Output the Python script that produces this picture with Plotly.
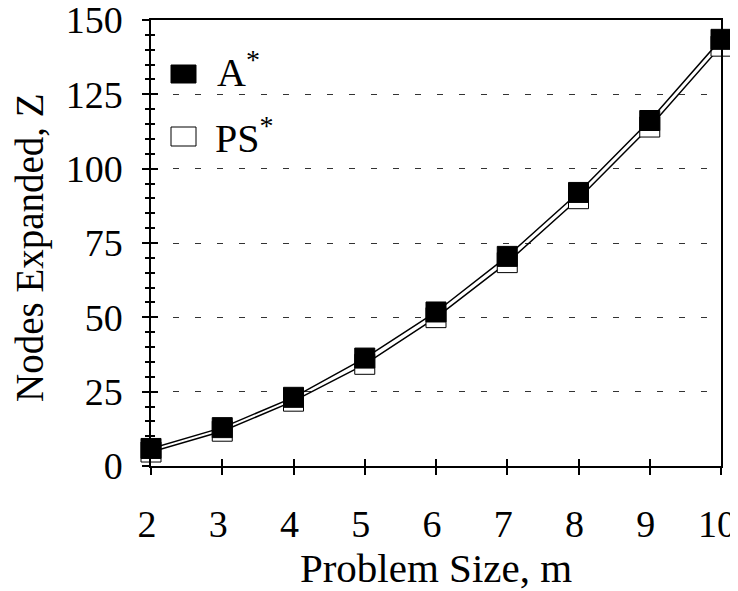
import plotly.graph_objects as go

problem_size = [2, 3, 4, 5, 6, 7, 8, 9, 10]
a_star = [5.9, 12.9, 23.1, 36.3, 51.8, 70.5, 92.0, 116.2, 143.5]
ps_star = [4.7, 11.7, 21.8, 34.2, 49.9, 68.4, 89.9, 114.0, 141.2]
y_ticks = [0, 25, 50, 75, 100, 125, 150]
x_ticks = [2, 3, 4, 5, 6, 7, 8, 9, 10]

FONT = "Liberation Serif, Times New Roman, Times, serif"
OFF = 8  # page body margin
W, H = 738 - OFF, 591 - OFF
# plot area in page pixels: x 151..721, y 20..466
PX0, PX1, PY0, PY1 = 151, 721, 20, 466
L, T = PX0 - OFF, PY0 - OFF
R = W - (PX1 - OFF)
B = H - (PY1 - OFF)
PW, PH = PX1 - PX0, PY1 - PY0

def px(xp):
    return (xp - PX0) / PW

def py(yp):
    return (PY1 - yp) / PH

fig = go.Figure()
fig.add_trace(go.Scatter(
    x=problem_size, y=ps_star, mode="lines+markers", name="PS*",
    line=dict(color="black", width=1.5),
    marker=dict(symbol="square", size=20, color="white", line=dict(color="black", width=1)),
    cliponaxis=False, showlegend=False))
fig.add_trace(go.Scatter(
    x=problem_size, y=a_star, mode="lines+markers", name="A*",
    line=dict(color="black", width=1.5),
    marker=dict(symbol="square", size=20, color="black", line=dict(color="black", width=1)),
    cliponaxis=False, showlegend=False))

axis_common = dict(showline=True, linecolor="black", linewidth=1.5, mirror=True,
                   tickcolor="black", tickwidth=1.5, zeroline=False, automargin=False,
                   ticklabeloverflow="allow",
                   tickfont=dict(family=FONT, size=38, color="black"))

fig.update_layout(
    width=W, height=H,
    margin=dict(l=L, r=R, t=T, b=B),
    paper_bgcolor="white", plot_bgcolor="white",
    font=dict(family=FONT, color="black"),
    xaxis=dict(range=[2, 10], tickvals=x_ticks, ticks="outside", ticklen=7,
               showgrid=False, ticklabelstandoff=17, ticklabelshift=-4,
               title=dict(text="Problem Size, m", font=dict(family=FONT, size=41), standoff=1),
               **axis_common),
    yaxis=dict(range=[0, 150], tickvals=y_ticks, ticks="outside", ticklen=7,
               showgrid=True, gridcolor="#333", griddash="6px,16px", gridwidth=1,
               ticklabelstandoff=12,
               minor=dict(dtick=5, ticks="outside", ticklen=4, tickcolor="black", tickwidth=1.5, showgrid=False),
               **axis_common),
    xaxis2=dict(range=[2, 10], tickvals=x_ticks, ticks="inside", ticklen=7, overlaying="x",
                showticklabels=False, showgrid=False, showline=False, zeroline=False,
                tickcolor="black", tickwidth=1.5, anchor="y"),
    yaxis2=dict(range=[0, 150], tickvals=y_ticks, ticks="inside", ticklen=7, overlaying="y",
                showticklabels=False, showgrid=False, showline=False, zeroline=False,
                minor=dict(dtick=5, ticks="inside", ticklen=4, tickcolor="black", tickwidth=1.5, showgrid=False),
                tickcolor="black", tickwidth=1.5, anchor="x"),
    showlegend=False,
)

fig.add_trace(go.Scatter(x=[None], y=[None], xaxis="x2", yaxis="y2", showlegend=False, hoverinfo="skip"))

# y-axis title
fig.add_annotation(xref="paper", yref="paper", x=px(30), y=py(248), xanchor="center", yanchor="middle",
                   text="Nodes Expanded, Z", textangle=-90, showarrow=False,
                   font=dict(family=FONT, size=39, color="black"))

# legend drawn manually
fig.add_shape(type="rect", xref="paper", yref="paper",
              x0=px(171), x1=px(196), y0=py(83), y1=py(65),
              fillcolor="black", line=dict(color="black", width=1))
fig.add_shape(type="rect", xref="paper", yref="paper",
              x0=px(171), x1=px(196), y0=py(146), y1=py(127),
              fillcolor="white", line=dict(color="black", width=1))
fig.add_annotation(xref="paper", yref="paper", x=px(215), y=py(70), xanchor="left", yanchor="middle",
                   text="A<sup>*</sup>", showarrow=False, font=dict(family=FONT, size=40, color="black"))
fig.add_annotation(xref="paper", yref="paper", x=px(213), y=py(136), xanchor="left", yanchor="middle",
                   text="PS<sup>*</sup>", showarrow=False, font=dict(family=FONT, size=40, color="black"))

fig.write_html("out.html")
